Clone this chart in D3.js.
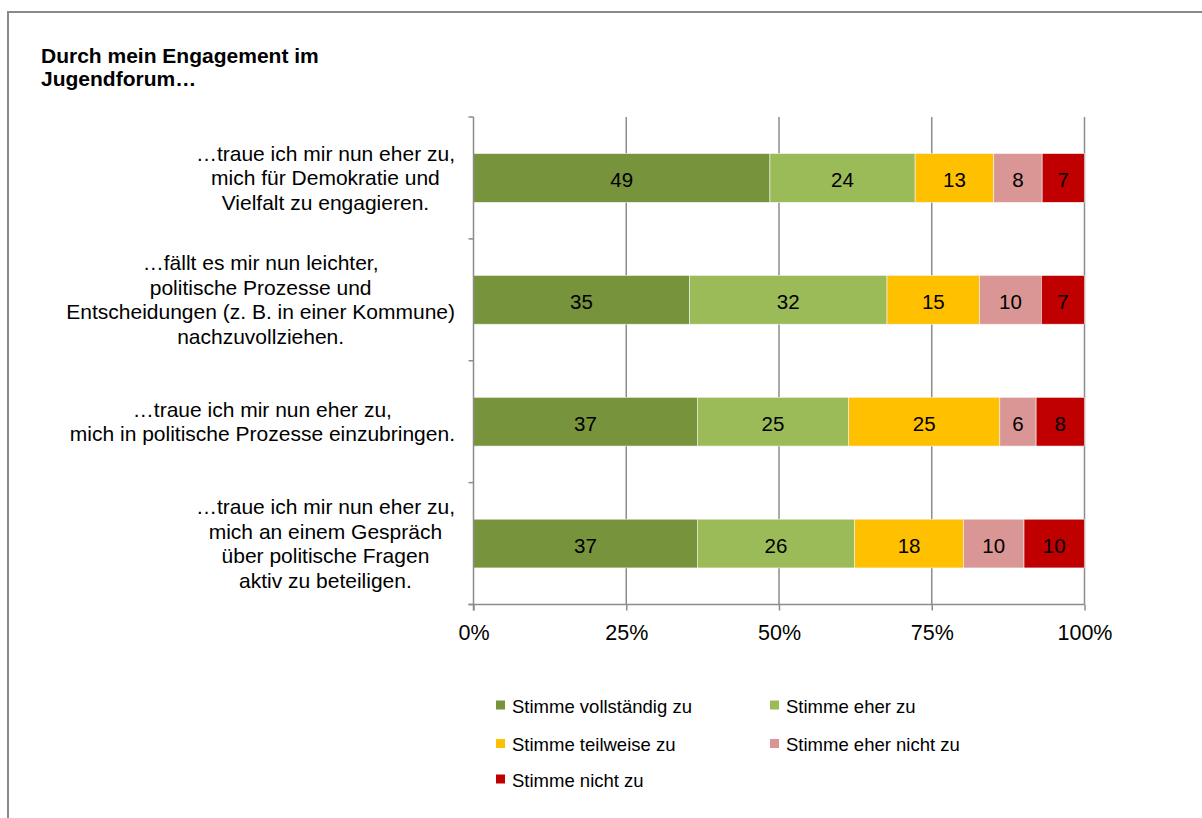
<!DOCTYPE html>
<html>
<head>
<meta charset="utf-8">
<script src="https://cdn.jsdelivr.net/npm/d3@7"></script>
<style>
  html, body { margin: 0; padding: 0; background: #fff; }
  svg { display: block; font-family: "Liberation Sans", Arial, sans-serif; }
</style>
</head>
<body>
<svg id="chart" width="1202" height="818"></svg>
<script>
// Survey statements (top to bottom), each split into its display lines
const statements = [
  ["…traue ich mir nun eher zu,", "mich für Demokratie und", "Vielfalt zu engagieren."],
  ["…fällt es mir nun leichter,", "politische Prozesse und", "Entscheidungen (z. B. in einer Kommune)", "nachzuvollziehen."],
  ["…traue ich mir nun eher zu,", "mich in politische Prozesse einzubringen."],
  ["…traue ich mir nun eher zu,", "mich an einem Gespräch", "über politische Fragen", "aktiv zu beteiligen."]
];

// Answer categories (stack order, left to right)
const answers = ["Stimme vollständig zu", "Stimme eher zu", "Stimme teilweise zu", "Stimme eher nicht zu", "Stimme nicht zu"];

// Percentages per answer, one value per statement
const vollstaendig = [49, 35, 37, 37];
const eher         = [24, 32, 25, 26];
const teilweise    = [13, 15, 25, 18];
const eherNicht    = [8, 10, 6, 10];
const nicht        = [7, 7, 8, 10];

const xTicks = [0, 0.25, 0.5, 0.75, 1];
const titleLines = ["Durch mein Engagement im", "Jugendforum…"];

const colors = ["#77933C", "#9BBB59", "#FFC000", "#D99694", "#C00000"];

const seriesValues = [vollstaendig, eher, teilweise, eherNicht, nicht];
const rows = statements.map((s, i) => {
  const r = { id: i };
  answers.forEach((a, k) => { r[a] = seriesValues[k][i]; });
  return r;
});

const svg = d3.select("#chart");

// outer frame (top and left edges visible)
svg.append("line").attr("x1", 8).attr("x2", 1202).attr("y1", 12).attr("y2", 12)
  .attr("stroke", "#8a8a8a").attr("stroke-width", 2);
svg.append("line").attr("x1", 8).attr("x2", 8).attr("y1", 11).attr("y2", 818)
  .attr("stroke", "#8a8a8a").attr("stroke-width", 2);

// title
svg.append("text")
  .attr("x", 41).attr("y", 63)
  .attr("font-size", 21).attr("font-weight", "bold").attr("fill", "#000")
  .selectAll("tspan").data(titleLines).join("tspan")
  .attr("x", 41).attr("dy", (d, i) => i === 0 ? 0 : 23)
  .text(d => d);

const plot = { left: 473.5, right: 1084.5, top: 117, bottom: 604.5 };

const x = d3.scaleLinear().domain([0, 1]).range([plot.left, plot.right]);
const y = d3.scaleBand().domain(rows.map(r => r.id)).range([plot.top, plot.bottom]).paddingInner(0.6).paddingOuter(0.3);
const yFull = d3.scaleBand().domain(rows.map(r => r.id)).range([plot.top, plot.bottom]);

// normalized stack (100% bars)
const stack = d3.stack().keys(answers).offset(d3.stackOffsetExpand);
const layers = stack(rows);

// vertical gridlines
svg.append("g").selectAll("line").data(xTicks.slice(1)).join("line")
  .attr("x1", d => x(d)).attr("x2", d => x(d))
  .attr("y1", plot.top).attr("y2", plot.bottom)
  .attr("stroke", "#8c8c8c").attr("stroke-width", 1.5);

// bars
const gBars = svg.append("g");
layers.forEach((layer, k) => {
  gBars.append("g").attr("fill", colors[k])
    .selectAll("rect").data(layer).join("rect")
    .attr("x", d => x(d[0]))
    .attr("width", d => x(d[1]) - x(d[0]))
    .attr("y", (d, i) => y(rows[i].id))
    .attr("height", y.bandwidth())
    .attr("stroke", "#f4f4f4").attr("stroke-width", 0.6);
});

// value labels
layers.forEach((layer, k) => {
  gBars.append("g")
    .selectAll("text").data(layer).join("text")
    .attr("x", d => (x(d[0]) + x(d[1])) / 2)
    .attr("y", (d, i) => y(rows[i].id) + y.bandwidth() / 2 + 9.5)
    .attr("text-anchor", "middle")
    .attr("font-size", 20.5).attr("fill", "#000")
    .text(d => d.data[answers[k]]);
});

// x axis
const xAxis = svg.append("g").attr("transform", `translate(0,${plot.bottom})`)
  .call(d3.axisBottom(x).tickValues(xTicks).tickFormat(d3.format(".0%")).tickSize(6).tickSizeOuter(0));
xAxis.select(".domain").attr("stroke", "#8c8c8c").attr("stroke-width", 1.5)
  .attr("d", `M${plot.left - 5},0H${plot.right}`);
xAxis.selectAll(".tick line").attr("stroke", "#8c8c8c").attr("stroke-width", 1.5);
xAxis.selectAll(".tick text").attr("font-size", 21.5).attr("fill", "#000")
  .attr("font-family", "Liberation Sans, Arial, sans-serif").attr("y", 35).attr("dy", 0);

// y axis line with boundary ticks
const yAxis = svg.append("g");
yAxis.append("line").attr("x1", plot.left).attr("x2", plot.left)
  .attr("y1", plot.top).attr("y2", plot.bottom + 6)
  .attr("stroke", "#8c8c8c").attr("stroke-width", 1.5);
const bounds = rows.map(r => yFull(r.id)).concat([plot.bottom]);
yAxis.selectAll("line.b").data(bounds).join("line").attr("class", "b")
  .attr("x1", plot.left - 5).attr("x2", plot.left)
  .attr("y1", d => d).attr("y2", d => d)
  .attr("stroke", "#8c8c8c").attr("stroke-width", 1.5);

// category labels: multi-line, centered block, right edge aligned
const labelRight = 455;
const lineH = 24.5;
rows.forEach((r, i) => {
  const lines = statements[i];
  const g = svg.append("g");
  const texts = g.selectAll("text").data(lines).join("text")
    .attr("font-size", 21).attr("fill", "#000").attr("text-anchor", "middle")
    .text(d => d);
  const maxW = d3.max(texts.nodes(), n => n.getComputedTextLength());
  const cx = labelRight - maxW / 2;
  const cy = yFull(r.id) + yFull.bandwidth() / 2;
  texts.attr("x", cx)
    .attr("y", (d, j) => cy + (j - (lines.length - 1) / 2) * lineH)
    .attr("dy", "0.35em");
});

// legend (two columns)
const legendCols = [496, 770];
const legendRows = [705, 743.5, 779];
const legend = svg.append("g").selectAll("g").data(answers).join("g")
  .attr("transform", (d, i) => `translate(${legendCols[i % 2]},${legendRows[Math.floor(i / 2)]})`);
legend.append("rect").attr("x", 0).attr("y", -4.5).attr("width", 9).attr("height", 9)
  .attr("fill", (d, i) => colors[i]);
legend.append("text").attr("x", 16).attr("y", 7.5)
  .attr("font-size", 18.5).attr("fill", "#000").text(d => d);
</script>
</body>
</html>
